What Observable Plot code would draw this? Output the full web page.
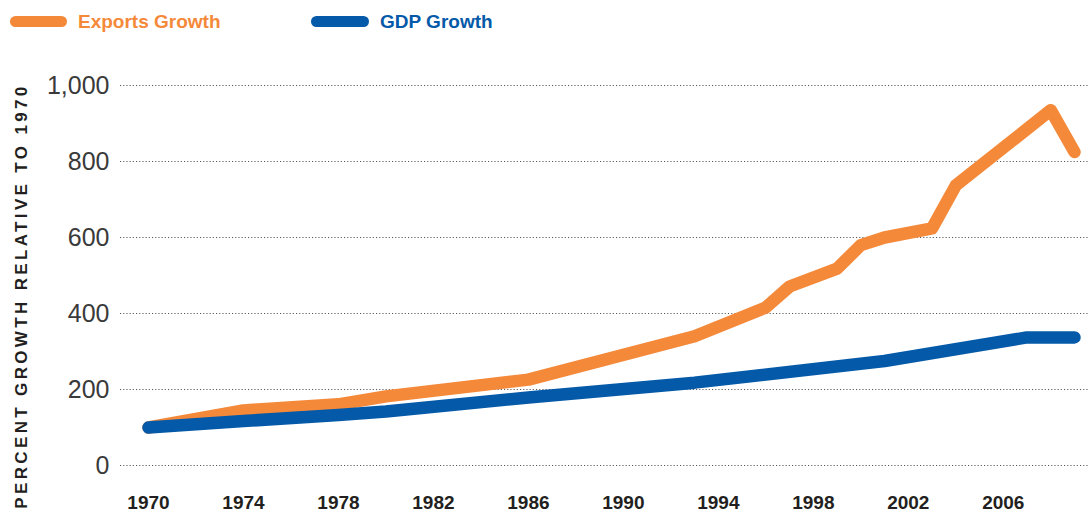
<!DOCTYPE html>
<html>
<head>
<meta charset="utf-8">
<script src="https://cdn.jsdelivr.net/npm/d3@7"></script>
<script src="https://cdn.jsdelivr.net/npm/@observablehq/plot@0.6"></script>
<style>
  html, body { margin: 0; padding: 0; background: #fff; }
  #wrap { width: 1089px; position: relative; }
  #legend { position: relative; height: 40px; width: 1089px; font-family: "Liberation Sans", Arial, sans-serif; }
  .sw { position: absolute; top: 16px; height: 11px; border-radius: 6px; }
  .lt { position: absolute; top: 12px; font-size: 19px; line-height: 19px; font-weight: bold; white-space: nowrap; }
  #chart svg { display: block; }
</style>
</head>
<body>
<div id="wrap">
  <div id="legend"></div>
  <div id="chart"></div>
</div>
<script>
// ---- data ----
const seriesNames = ["Exports Growth", "GDP Growth"];
const seriesColors = ["#f5893a", "#0459a8"];

const exportYears = [1970, 1974, 1978, 1980, 1986, 1993, 1996, 1997, 1999, 2000, 2001, 2003, 2004, 2008, 2009];
const exportValues = [100, 145, 161, 182, 226, 340, 416, 471, 518, 580, 600, 624, 737, 935, 825];

const gdpYears = [1970, 1974, 1978, 1980, 1986, 1993, 2001, 2007, 2009];
const gdpValues = [100, 117, 133, 142, 179, 218, 275, 337, 337];

const xTicks = [1970, 1974, 1978, 1982, 1986, 1990, 1994, 1998, 2002, 2006];
const yTicks = [0, 200, 400, 600, 800, 1000];
const yTitle = "PERCENT GROWTH RELATIVE TO 1970";

// ---- build table ----
const exportsData = exportYears.map((y, i) => ({year: y, value: exportValues[i], series: seriesNames[0]}));
const gdpData = gdpYears.map((y, i) => ({year: y, value: gdpValues[i], series: seriesNames[1]}));

// ---- legend (HTML, above the SVG) ----
const legend = document.getElementById("legend");
const legendLayout = [{sw: 10, w: 57, tx: 78}, {sw: 311, w: 58, tx: 380}];
seriesNames.forEach((name, i) => {
  const s = document.createElement("span");
  s.className = "sw";
  s.style.left = legendLayout[i].sw + "px";
  s.style.width = legendLayout[i].w + "px";
  s.style.background = seriesColors[i];
  legend.appendChild(s);
  const t = document.createElement("span");
  t.className = "lt";
  t.style.left = legendLayout[i].tx + "px";
  t.style.color = seriesColors[i];
  t.textContent = name;
  legend.appendChild(t);
});

// ---- chart ----
const chart = Plot.plot({
  width: 1089,
  height: 472,
  marginTop: 45,
  marginBottom: 47,
  marginLeft: 120,
  marginRight: 0,
  style: {background: "#fff", overflow: "visible"},
  x: {domain: [1970, 2009], range: [148, 1074], label: null},
  y: {domain: [0, 1000], label: null},
  marks: [
    Plot.ruleY(yTicks, {stroke: "#555", strokeWidth: 1.1, strokeDasharray: "1.1,2.1"}),
    Plot.axisY(yTicks, {
      tickSize: 0, tickPadding: 11, tickFormat: d3.format(","),
      fontSize: 25, fontWeight: "normal", fontFamily: "'Liberation Sans', Arial, sans-serif", fill: "#3a3a3a", label: null
    }),
    Plot.axisX(xTicks, {
      tickSize: 0, tickPadding: 30, tickFormat: d => String(d),
      fontSize: 19, fontWeight: "bold", fontFamily: "'Liberation Sans', Arial, sans-serif", fill: "#231f20", label: null
    }),
    Plot.line(exportsData, {x: "year", y: "value", stroke: seriesColors[0], strokeWidth: 12.5, strokeLinecap: "round", strokeLinejoin: "round"}),
    Plot.line(gdpData, {x: "year", y: "value", stroke: seriesColors[1], strokeWidth: 12.5, strokeLinecap: "round", strokeLinejoin: "round"})
  ]
});
document.getElementById("chart").appendChild(chart);

// rotated y-axis title
d3.select(chart).append("text")
  .attr("transform", "translate(27,256) rotate(-90)")
  .attr("text-anchor", "middle")
  .attr("font-family", "'Liberation Sans', Arial, sans-serif")
  .attr("font-weight", "bold")
  .attr("font-size", 17)
  .attr("letter-spacing", "3.35px")
  .attr("fill", "#231f20")
  .text(yTitle);
</script>
</body>
</html>
